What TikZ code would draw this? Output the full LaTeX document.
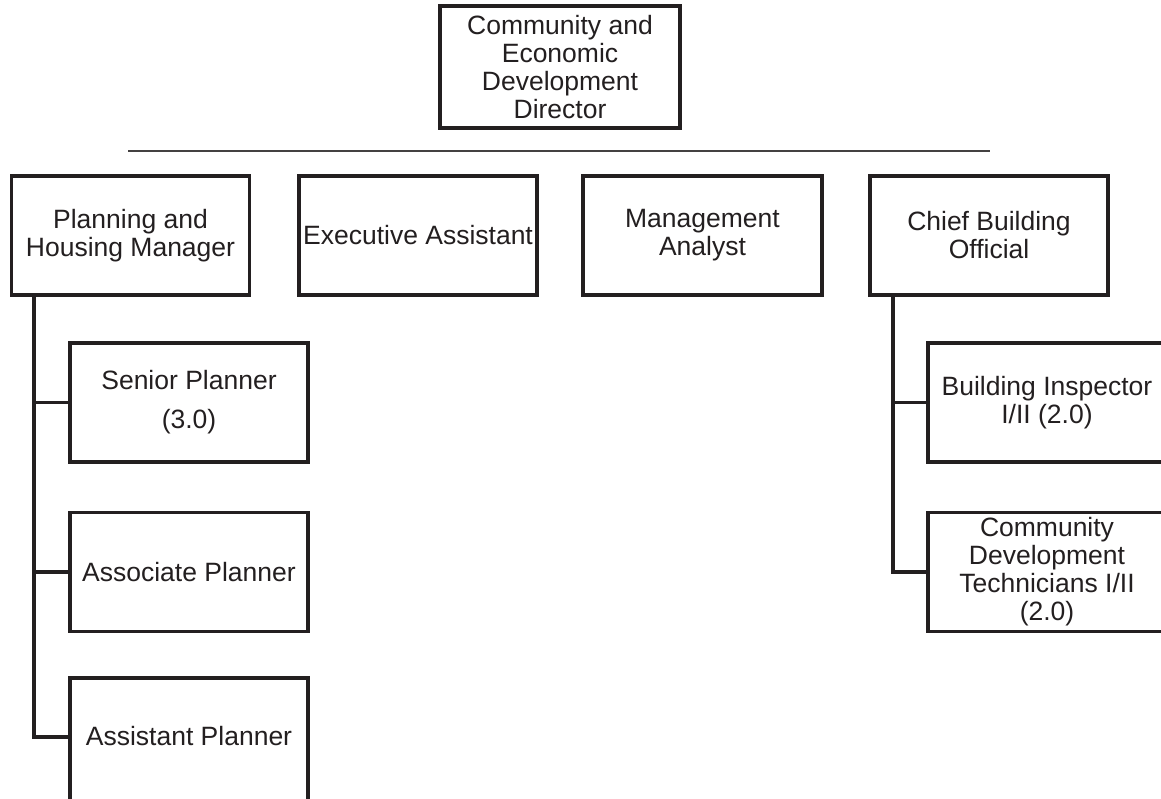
\documentclass[tikz,border=0pt]{standalone}
\usepackage{fontspec}
\setmainfont{Liberation Sans}
\definecolor{ink}{RGB}{35,31,32}
\begin{document}
\begin{tikzpicture}[x=1pt,y=-1pt,
  box/.style={draw=ink, line width=3.6pt, text=ink, inner sep=0pt, align=center,
    font=\fontsize{26.5}{28}\selectfont, minimum height=119pt},
  conn/.style={draw=ink, line width=3.2pt},
  rule/.style={draw=ink!85, line width=2.4pt}]
\useasboundingbox (0,0) rectangle (1161,799);
\clip (0,0) rectangle (1161,799);
\fill[white] (0,0) rectangle (1161,799);
% top
\node[box, minimum width=240pt, minimum height=122pt] (dir) at (560,67) {Community and\\Economic\\Development\\Director};
\coordinate (hl) at (128,151);
\coordinate (hr) at (990,151);
\draw[rule] (hl) -- (hr);
% second row
\node[box, minimum width=238pt] (pm) at (130.5,235.5) {Planning and\\Housing Manager};
\node[box, minimum width=238pt] (ea) at (418,235.5) {Executive Assistant};
\node[box, minimum width=239pt] (ma) at (702.5,235.5) {Management\\Analyst};
\node[box, minimum width=238pt] (cbo) at (989,235.5) {Chief Building\\Official};
% left column
\node[box, minimum width=238pt] (sp) at (189,402.5) {\raisebox{-2pt}{Senior Planner}\\[11pt]\raisebox{-2pt}{(3.0)}};
\node[box, minimum width=238pt] (asc) at (189,572) {Associate Planner};
\node[box, minimum width=238pt, minimum height=126pt] (asp) at (189,741) {\raisebox{-4pt}[0pt][0pt]{Assistant Planner}};
% right column
\node[box, minimum width=238pt] (bi) at (1047,402.5) {Building Inspector\\I/II (2.0)};
\node[box, minimum width=238pt] (cdt) at (1047,572) {Community\\Development\\Technicians I/II\\(2.0)};
% connectors
\coordinate (tl) at (34,295);
\coordinate (tlb) at (34,737);
\coordinate (aspw) at (70,737);
\draw[conn] (tl) |- (sp.west);
\draw[conn] (tl) |- (asc.west);
\draw[conn] (tl) -- (tlb) -- (aspw);
\coordinate (tr) at (893,295);
\draw[conn] (tr) |- (bi.west);
\draw[conn] (tr) |- (cdt.west);
\end{tikzpicture}
\end{document}
